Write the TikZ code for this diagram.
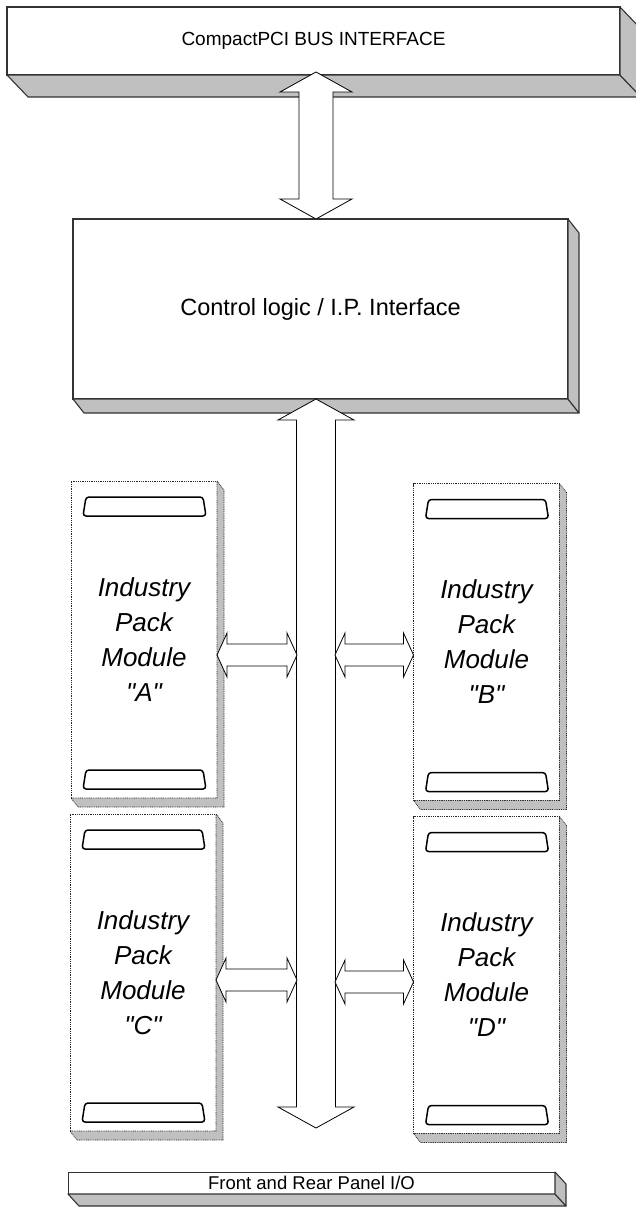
\documentclass[tikz,border=0pt]{standalone}
\usepackage{fontspec}
\setmainfont{Liberation Sans}[Ligatures=TeXOff]
\usetikzlibrary{calc}
\definecolor{shadowgray}{RGB}{192,192,192}
\newcommand\mkextrude[3]{%
  \filldraw[side] (#1.south west) -- (#1.south east) -- ([shift={(#2,#3)}]#1.south east) -- ([shift={(#2,#3)}]#1.south west) -- cycle;
  \filldraw[side] (#1.north east) -- ([shift={(#2,#3)}]#1.north east) -- ([shift={(#2,#3)}]#1.south east) -- (#1.south east) -- cycle;}
\newcommand\mkmodparts[1]{%
  \filldraw[modside] (#1.north east) -- ([shift={(7,9)}]#1.north east) -- ([shift={(7,9)}]#1.south east) -- ([shift={(7,9)}]#1.south west) -- (#1.south west) -- (#1.south east) -- cycle;
  \draw[conn] ([shift={(15,16)}]#1.north west) -- ++(117,0) -- ++(3,19) -- ++(-123,0) -- cycle;
  \draw[conn] ([shift={(15,-28)}]#1.south west) -- ++(117,0) -- ++(3,19) -- ++(-123,0) -- cycle;}
\newcommand\vblock[5]{% top tip, bottom tip, shaft half, head half, head length
  \draw[blockarrow] let \p1=(#1), \p2=(#2) in
   (\p1) -- (\x1+#4pt,\y1-#5pt) -- (\x1+#3pt,\y1-#5pt) -- (\x1+#3pt,\y2+#5pt) -- (\x1+#4pt,\y2+#5pt) -- (\x1,\y2)
   -- (\x1-#4pt,\y2+#5pt) -- (\x1-#3pt,\y2+#5pt) -- (\x1-#3pt,\y1-#5pt) -- (\x1-#4pt,\y1-#5pt) -- cycle;}
\newcommand\hblock[5]{% left tip, right tip, shaft half, head half, head length
  \draw[blockarrow] let \p1=(#1), \p2=(#2) in
   (\p1) -- (\x1+#5pt,\y1+#4pt) -- (\x1+#5pt,\y1+#3pt) -- (\x2-#5pt,\y1+#3pt) -- (\x2-#5pt,\y1+#4pt) -- (\x2,\y1)
   -- (\x2-#5pt,\y1-#4pt) -- (\x2-#5pt,\y1-#3pt) -- (\x1+#5pt,\y1-#3pt) -- (\x1+#5pt,\y1-#4pt) -- cycle;}
\begin{document}
\begin{tikzpicture}[x=1pt,y=-1pt,
  face/.style={draw=black!80, line width=1.1pt, fill=white, inner sep=0pt, outer sep=0pt},
  side/.style={draw=black!80, line width=1.1pt, fill=shadowgray, line join=round},
  modface/.style={draw=black!85, line width=0.7pt, dash pattern=on 0.9pt off 0.9pt, fill=white, inner sep=0pt, outer sep=0pt,
    minimum width=146pt, minimum height=317pt, align=center, font=\fontsize{26}{35}\selectfont\itshape},
  modside/.style={draw=black!85, line width=0.7pt, dash pattern=on 0.9pt off 0.9pt, fill=shadowgray},
  conn/.style={draw=black, line width=1.5pt, rounded corners=3pt, fill=white},
  blockarrow/.style={draw=black, line width=0.8pt, fill=white, line join=miter},
]
\useasboundingbox (0,0) rectangle (635,1207);
\fill[white] (0,0) rectangle (635,1207);

% main boxes
\node[face, minimum width=613pt, minimum height=68pt, font=\fontsize{19}{22}\selectfont] (pci) at (313.5,41) {CompactPCI BUS INTERFACE};
\mkextrude{pci}{21}{22}
\node[face, minimum width=495pt, minimum height=180pt, font=\fontsize{23.5}{28}\selectfont] (ctrl) at (320.5,309) {Control logic / I.P. Interface};
\mkextrude{ctrl}{11}{14}
\node[face, line width=1pt, minimum width=487pt, minimum height=22pt, font=\fontsize{18.5}{20}\selectfont] (panel) at (311.5,1183) {Front and Rear Panel I/O};
\mkextrude{panel}{11}{12}

% modules
\node[modface] (modA) at (144,639.5) {Industry\\Pack\\Module\\"A"};
\mkmodparts{modA}
\node[modface] (modB) at (486.5,642) {Industry\\Pack\\Module\\"B"};
\mkmodparts{modB}
\node[modface] (modC) at (143,972.5) {Industry\\Pack\\Module\\"C"};
\mkmodparts{modC}
\node[modface] (modD) at (486.5,975) {Industry\\Pack\\Module\\"D"};
\mkmodparts{modD}

% connector tips
\coordinate (pciTip) at (316,72);
\coordinate (ctrlTip) at (316,219);
\coordinate (busTop) at (316,399);
\coordinate (busBot) at (316,1128);
\coordinate (aTip) at (modA.east |- 0,655);
\coordinate (aBus) at (297,655);
\coordinate (bBus) at (335,655);
\coordinate (bTip) at (modB.west |- 0,655);
\coordinate (cTip) at (modC.east |- 0,980);
\coordinate (cBus) at (297,980);
\coordinate (dBus) at (335,982);
\coordinate (dTip) at (modD.west |- 0,982);

% block arrows
\vblock{pciTip}{ctrlTip}{17}{36}{20}
\vblock{busTop}{busBot}{19.5}{38}{21}
\hblock{aTip}{aBus}{11}{22}{10}
\hblock{bBus}{bTip}{11}{22}{10}
\hblock{cTip}{cBus}{11}{22}{10}
\hblock{dBus}{dTip}{11}{22}{10}
\end{tikzpicture}
\end{document}
